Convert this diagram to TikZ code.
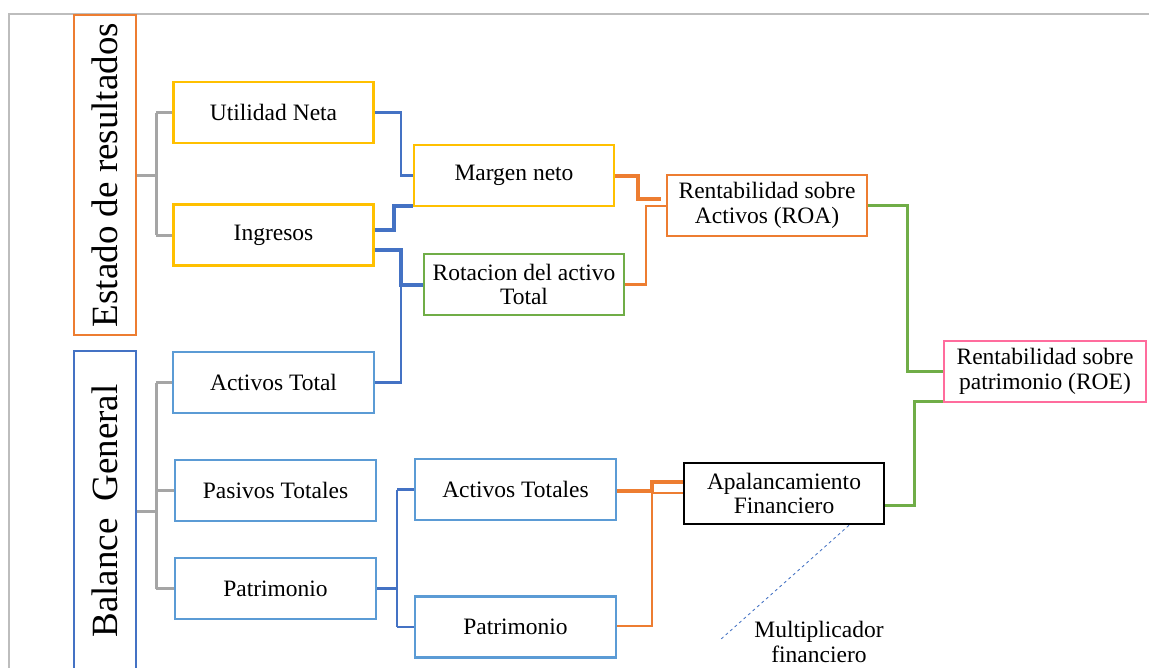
\documentclass[tikz,border=0pt]{standalone}
\usepackage{fontspec}
\setmainfont{Liberation Serif}
\usetikzlibrary{calc}
\definecolor{cOrange}{HTML}{ED7D31}
\definecolor{cYellow}{HTML}{FFC000}
\definecolor{cBlue}{HTML}{4472C4}
\definecolor{cLBlue}{HTML}{5B9BD5}
\definecolor{cGreen}{HTML}{70AD47}
\definecolor{cPink}{HTML}{FF6C9D}
\definecolor{cGray}{HTML}{A5A5A5}
\definecolor{cFrame}{HTML}{BDBDBD}
\begin{document}
\begin{tikzpicture}[x=1pt,y=-1pt,
  box/.style={draw, line width=2.2pt, minimum width=200pt, minimum height=61pt,
    inner sep=2pt, align=center, font=\fontsize{23.5}{24.5}\selectfont},
  sidebox/.style={draw, line width=2.2pt, minimum width=62pt, minimum height=320pt,
    inner sep=0pt, font=\fontsize{37}{40}\selectfont},
  linkthin/.style={line width=2.2pt},
  linkbold/.style={line width=4pt},
  linkgray/.style={line width=3pt, draw=cGray},
  label/.style={align=center, inner sep=0pt, font=\fontsize{23.5}{24.5}\selectfont}
]
\useasboundingbox (0,0) rectangle (1149,667);
\clip (0,0) rectangle (1149,667);
\fill[white] (0,0) rectangle (1149,667);
% frame
\draw[cFrame, line width=2pt] (9,700) -- (9,14) -- (1170,14);

% side boxes
\node[sidebox, draw=cOrange] (est) at (105,175) {\rotatebox{90}{Estado de resultados}};
\node[sidebox, draw=cBlue] (bal) at (105,511) {\rotatebox{90}{Balance\hspace{0.45em}General}};

% boxes
\node[box, draw=cYellow] (un) at (273.5,112.5) {Utilidad Neta};
\node[box, draw=cYellow] (ing) at (273.5,235) {Ingresos};
\node[box, draw=cYellow] (mn) at (514,175.5) {Margen neto};
\node[box, draw=cGreen] (rot) at (524,284.5) {Rotacion del activo\\Total};
\node[box, draw=cOrange] (roa) at (767,205.5) {Rentabilidad sobre\\Activos (ROA)};
\node[box, draw=cLBlue, minimum width=201pt] (at) at (273.5,382.5) {Activos Total};
\node[box, draw=cLBlue, minimum width=201pt] (pt) at (275.5,490.5) {Pasivos Totales};
\node[box, draw=cLBlue, minimum width=201pt] (pat) at (275.5,588.5) {Patrimonio};
\node[box, draw=cLBlue, minimum width=201pt] (ats) at (515.5,489.5) {Activos Totales};
\node[box, draw=cLBlue, minimum width=201pt] (pat2) at (515.5,627) {Patrimonio};
\node[box, draw=black, line width=2.6pt] (apa) at (784,493.5) {Apalancamiento\\Financiero};
\node[box, draw=cPink, minimum width=202pt] (roe) at (1045,371.5) {Rentabilidad sobre\\patrimonio (ROE)};
\node[label] (mf) at (819,642) {Multiplicador\\financiero};
\coordinate (mfend) at (720,640);

% gray connectors
\draw[linkgray] (est.east) -- ++(19,0) coordinate (ej);
\draw[linkgray] (ej |- un.west) -- (ej |- ing.west);
\draw[linkgray] (ej |- un.west) -- (un.west);
\draw[linkgray] (ej |- ing.west) -- (ing.west);
\draw[linkgray] (bal.east) -- ++(19,0) coordinate (bj);
\draw[linkgray] (bj |- at.west) -- (bj |- pat.west);
\draw[linkgray] (bj |- at.west) -- (at.west);
\draw[linkgray] (bj |- pt.west) -- (pt.west);
\draw[linkgray] (bj |- pat.west) -- (pat.west);

% blue connectors
\draw[linkthin, cBlue] (un.east) -- ++(26,0) |- (mn.west);
\draw[linkbold, cBlue] ([yshift=5pt]ing.east) -- ++(19,0) |- ([yshift=1pt]mn.south west);
\draw[linkbold, cBlue] ([yshift=-15pt]ing.east) -- ++(26,0) |- (rot.west);
\draw[linkthin, cBlue] (at.east) -- ++(26,0) |- (rot.west);
\draw[linkthin, cBlue] (pat.east) -- ++(20,0) coordinate (pj);
\draw[linkthin, cBlue] (pj |- ats.west) -- (pj |- pat2.west);
\draw[linkthin, cBlue] (pj |- ats.west) -- (ats.west);
\draw[linkthin, cBlue] (pj |- pat2.west) -- (pat2.west);

% orange connectors
\draw[linkbold, cOrange] (mn.east) -- ++(23,0) |- ([yshift=6.5pt,xshift=-5pt]roa.west);
\draw[linkthin, cOrange] (rot.east) -- ++(21,0) |- ([yshift=-0.5pt]roa.west);
\draw[linkbold, cOrange] ([yshift=-1.5pt]ats.east) -- ++(35,0) |- ([yshift=11.5pt]apa.west);
\draw[linkthin, cOrange] ([yshift=1pt]pat2.east) -- ++(35,0) |- ([yshift=0.5pt]apa.west);

% green connectors
\draw[linkthin, line width=3pt, cGreen] (roa.east) -- ++(39,0) |- (roe.west);
\draw[linkthin, line width=3pt, cGreen] ([yshift=-11.5pt]apa.east) -- ++(29,0) |- ([yshift=2pt]roe.south west);

% dashed
\draw[cBlue, line width=0.8pt, dashed] ([xshift=65pt]apa.south) -- (mfend);
\end{tikzpicture}
\end{document}
